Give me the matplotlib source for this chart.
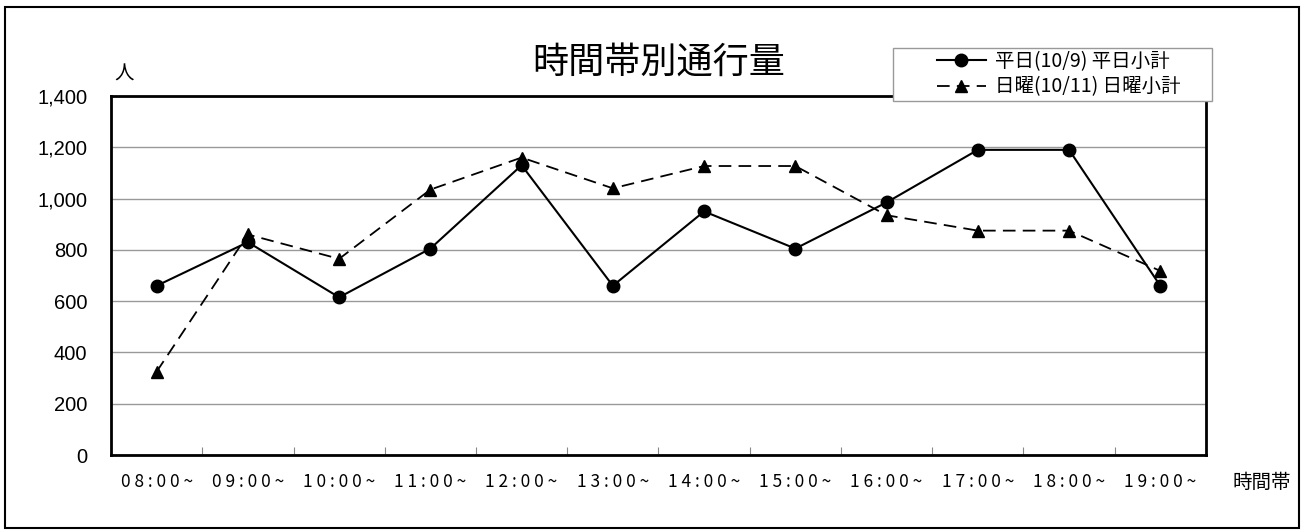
import matplotlib
matplotlib.use("Agg")
import matplotlib.pyplot as plt
from matplotlib.patches import Rectangle

plt.rcParams['font.family'] = ['Noto Sans CJK JP', 'DejaVu Sans']

# 時間帯
hours = ['08:00~', '09:00~', '10:00~', '11:00~', '12:00~', '13:00~',
         '14:00~', '15:00~', '16:00~', '17:00~', '18:00~', '19:00~']
# 平日(10/9) 平日小計
heijitsu = [660, 830, 615, 805, 1130, 660, 950, 805, 985, 1190, 1190, 660]
# 日曜(10/11) 日曜小計
nichiyou = [325, 860, 765, 1035, 1160, 1040, 1127, 1127, 935, 875, 875, 718]

fig = plt.figure(figsize=(13.03, 5.31), dpi=100)
ax = fig.add_axes([0.0852, 0.1431, 0.8403, 0.6761])

x = list(range(len(hours)))
ax.plot(x, heijitsu, color='black', lw=1.5, marker='o', ms=9,
        label='平日(10/9) 平日小計')
ax.plot(x, nichiyou, color='black', lw=1.3, ls=(0, (7, 4)), marker='^', ms=9,
        label='日曜(10/11) 日曜小計')

ax.set_xlim(-0.5, len(hours) - 0.5)
ax.set_ylim(0, 1400)
ax.set_yticks(range(0, 1401, 200))
ax.set_yticklabels(['{:,}'.format(v) for v in range(0, 1401, 200)], fontsize=14.5,
                   family=['Liberation Sans', 'DejaVu Sans'])
ax.tick_params(axis='y', length=0, pad=17)
ax.yaxis.grid(True, color='#999999', lw=1)
ax.set_axisbelow(True)

ax.set_xticks(x)
ax.set_xticklabels([' '.join(h) for h in hours], fontsize=12.5)
ax.tick_params(axis='x', length=0, pad=13)
ax.set_xticks([i + 0.5 for i in x[:-1]], minor=True)
ax.tick_params(axis='x', which='minor', direction='in', length=6,
               width=0.8, color='#888888')

for s in ax.spines.values():
    s.set_linewidth(2)
    s.set_color('black')

ax.set_title('時間帯別通行量', fontsize=26, pad=16)
fig.text(0.0875, 0.84, '人', fontsize=14, ha='left', va='bottom')
fig.text(0.9685, 0.091, '時間帯', fontsize=14, ha='center', va='center')

# legend box (wider than the legend content, as in the original)
fig.patches.append(Rectangle((0.6853, 0.8098), 0.2449, 0.0998, transform=fig.transFigure,
                             facecolor='white', edgecolor='#999999', lw=1, zorder=5))
leg = fig.legend(loc='upper left', bbox_to_anchor=(0.7191, 0.9045), fontsize=14,
                 frameon=False, handlelength=2.5, borderpad=0,
                 labelspacing=0.25, handletextpad=0.5, borderaxespad=0)
leg.set_zorder(6)

fig.patches.append(Rectangle((0.0035, 0.006), 0.9935, 0.98, transform=fig.transFigure,
                             fill=False, edgecolor='black', lw=1.5))

fig.savefig('out.png', dpi=100)
